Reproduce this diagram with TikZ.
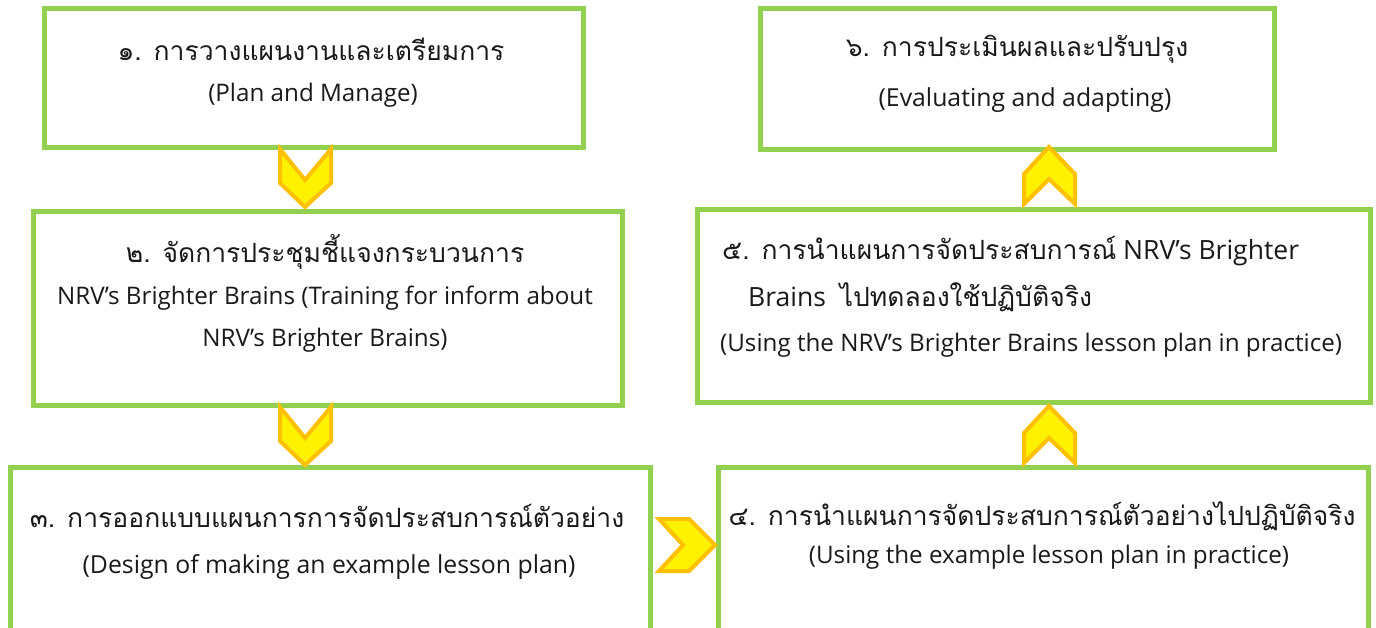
\documentclass[tikz,border=0pt]{standalone}
\usepackage{fontspec}
\setmainfont{Open Sans}
\newfontfamily\thaif[Script=Thai]{Loma}
\newcommand{\T}[1]{{\thaif #1}}
\begin{document}
\begin{tikzpicture}[x=1pt,y=-1pt,
  box/.style={draw=boxgreen,line width=5pt},
  chev/.style={fill=yellow,draw=chevorange,line width=4pt,line join=miter},
  big/.style={font=\fontsize{26.5}{30}\selectfont,inner sep=0pt,text=black!90},
  small/.style={font=\fontsize{24.2}{28}\selectfont,inner sep=0pt,text=black!90},
  mid/.style={font=\fontsize{24.8}{29}\selectfont,inner sep=0pt,text=black!90}]
\definecolor{boxgreen}{HTML}{92D050}
\definecolor{chevorange}{HTML}{FFC000}
\useasboundingbox (0,0) rectangle (1376,627);
% boxes
\draw[box] (44,8) rectangle (583,147);
\draw[box] (33,211) rectangle (622,405);
\draw[box] (10,467) rectangle (650,640);
\draw[box] (718,467) rectangle (1368,640);
\draw[box] (697,209) rectangle (1370,402);
\draw[box] (760,8) rectangle (1274,149);
% chevrons down
\draw[chev] (280,149) -- (305,180) -- (331,149) -- (331,183) -- (305,207) -- (280,183) -- cycle;
\draw[chev] (280,407) -- (305,438) -- (331,407) -- (331,441) -- (305,465) -- (280,441) -- cycle;
% chevron right
\draw[chev] (659,519) -- (689,519) -- (715,545) -- (689,571) -- (659,571) -- (683,545) -- cycle;
% chevrons up
\draw[chev] (1024,204) -- (1024,174) -- (1049,147) -- (1075,174) -- (1075,204) -- (1049,179) -- cycle;
\draw[chev] (1024,463) -- (1024,433) -- (1049,406) -- (1075,433) -- (1075,463) -- (1049,438) -- cycle;
% texts
\node[big] (t1a) at (311,49) {\T{๑. การวางแผนงานและเตรียมการ}};
\node[small] (t1b) at (313,95) {(Plan and Manage)};
\node[big] (t2a) at (325,252) {\T{๒. จัดการประชุมชี้แจงกระบวนการ}};
\node[small] (t2b) at (325,298) {NRV’s Brighter Brains (Training for inform about};
\node[small] (t2c) at (325,340) {NRV’s Brighter Brains)};
\node[big] (t3a) at (327,516) {\T{๓. การออกแบบแผนการการจัดประสบการณ์ตัวอย่าง}};
\node[mid] (t3b) at (329,567) {(Design of making an example lesson plan)};
\node[big] (t4a) at (1042,516) {\T{๔. การนำแผนการจัดประสบการณ์ตัวอย่างไปปฏิบัติจริง}};
\node[small] (t4b) at (1049,557) {(Using the example lesson plan in practice)};
\node[big,anchor=west] (t5a) at (722,251) {\T{๕. การนำแผนการจัดประสบการณ์} NRV’s Brighter};
\node[big,anchor=west] (t5b) at (748,297) {Brains\ \ \T{ไปทดลองใช้ปฏิบัติจริง}};
\node[small,anchor=west] (t5c) at (720,345) {(Using the NRV’s Brighter Brains lesson plan in practice)};
\node[big] (t6a) at (1017,49) {\T{๖. การประเมินผลและปรับปรุง}};
\node[mid] (t6b) at (1025,100) {(Evaluating and adapting)};
\end{tikzpicture}
\end{document}
